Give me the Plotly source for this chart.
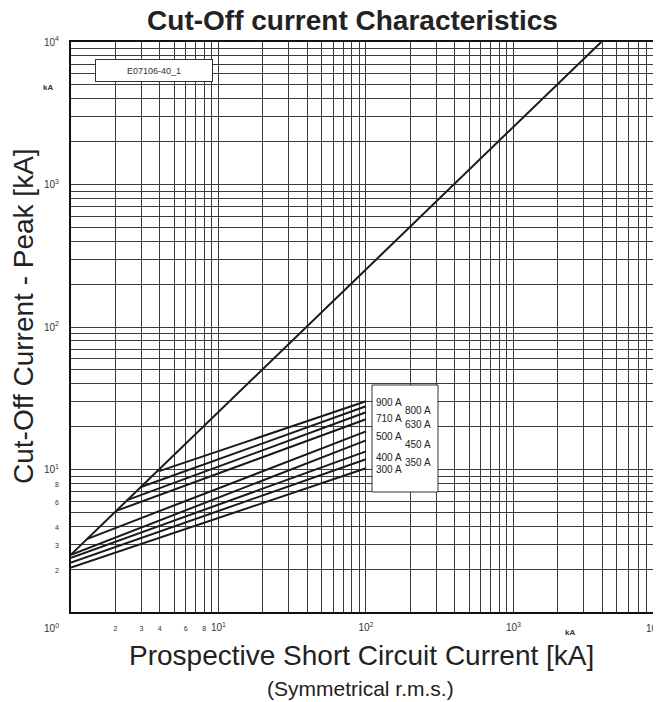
import numpy as np
import plotly.graph_objects as go

# ---------------- data ----------------
# Maximum peak (unlimited) line: prospective current [kA] vs peak [kA]
peak_x = [1.0, 3940.0]
peak_y = [2.53, 10000.0]

# Cut-off lines per fuse rating (start on peak line / left edge, end at 100 kA)
ratings = ["900 A", "800 A", "710 A", "630 A", "500 A", "450 A", "400 A", "350 A", "300 A"]
start_x = [3.92, 2.95, 2.40, 2.00, 1.28, 1.00, 1.00, 1.00, 1.00]
start_y = [9.7, 7.5, 6.1, 5.1, 3.25, 2.52, 2.40, 2.22, 2.05]
end_x = [100, 100, 100, 100, 100, 100, 100, 100, 100]
end_y = [30.1, 27.8, 25.2, 22.5, 18.5, 16.0, 13.4, 11.8, 10.2]

# tick positions (log grid) and labels
x_tickvals = [m * 10 ** e for e in range(0, 4) for m in range(1, 10)]
y_tickvals = [m * 10 ** e for e in range(0, 4) for m in range(1, 10)] + [10000]
small_x = {2: "2", 3: "3", 4: "4", 6: "6", 8: "8"}
small_y = {2: "2", 3: "3", 4: "4", 6: "6", 8: "8"}

title_text = "<b>Cut-Off current Characteristics</b>"
x_title = ["Prospective Short Circuit Current [kA]", "(Symmetrical r.m.s.)"]
y_title = "Cut-Off Current - Peak [kA]"

# ---------------- layout geometry ----------------
# the page body adds an 8 px offset, so the figure is 8 px smaller and
# every reference pixel position is shifted by OFF
OFF = 8
W, H = 661 - OFF, 702 - OFF
L, R, T, B = 71 - OFF, 6, 42 - OFF, 90
PX0, PX1, PY0, PY1 = L, W - R, T, H - B


def px(x):
    return (x - OFF - PX0) / (PX1 - PX0)


def py(y):
    return (PY1 - (y - OFF)) / (PY1 - PY0)


def sm(s):
    return '<span style="font-size:7px">' + s + "</span>"


def tick_text(v, small):
    e = int(np.floor(np.log10(v) + 1e-9))
    m = int(round(v / 10 ** e))
    if m == 1:
        return " " if e == 0 else "10<sup>%d</sup>" % e
    if e == 0 and m in small:
        return sm(small[m])
    return " "


fig = go.Figure()
LINE = dict(color="#1a1a1a", width=2)

fig.add_trace(go.Scatter(x=peak_x, y=peak_y, mode="lines", line=LINE,
                         showlegend=False, hoverinfo="skip"))
for name, x0, y0, x1, y1 in zip(ratings, start_x, start_y, end_x, end_y):
    fig.add_trace(go.Scatter(x=[x0, x1], y=[y0, y1], mode="lines", line=LINE,
                             name=name, showlegend=False))

FONT = "Liberation Sans, Arial, sans-serif"
fig.update_layout(
    width=W, height=H,
    margin=dict(l=L, r=R, t=T, b=B, pad=0, autoexpand=False),
    paper_bgcolor="white", plot_bgcolor="white",
    font=dict(family=FONT, color="#222"),
    title=dict(text=title_text, x=(352.5 - OFF) / W, xref="container",
               xanchor="center", y=1 - (20 - OFF) / H, yref="container", yanchor="middle",
               font=dict(size=28, color="#222", family=FONT)),
    xaxis=dict(type="log", range=[0, 3.96], tickvals=x_tickvals,
               ticktext=[tick_text(v, small_x) for v in x_tickvals], ticks="",
               tickangle=0,
               tickfont=dict(size=10, color="#333"), ticklabelstandoff=5,
               showgrid=True, gridcolor="#3c3c3c", gridwidth=1, automargin=False,
               showline=True, linecolor="#111", linewidth=2, mirror=True, zeroline=False),
    yaxis=dict(type="log", range=[0, 4], tickvals=y_tickvals,
               ticktext=[tick_text(v, small_y) for v in y_tickvals], ticks="",
               tickangle=0,
               tickfont=dict(size=10, color="#333"), ticklabelstandoff=8,
               showgrid=True, gridcolor="#3c3c3c", gridwidth=1, automargin=False,
               showline=True, linecolor="#111", linewidth=2, mirror=True, zeroline=False),
)

C = dict(xref="paper", yref="paper", xanchor="center", yanchor="middle", showarrow=False)
ann = []
# axis titles
ann.append(dict(C, x=px(361), y=py(655), text=x_title[0], font=dict(size=28, color="#222")))
ann.append(dict(C, x=px(360), y=py(688), text=x_title[1], font=dict(size=21, color="#222")))
ann.append(dict(C, x=px(23), y=py(316), text=y_title, textangle=-90,
                font=dict(size=28, color="#222")))
# corner / unit labels
ann.append(dict(C, x=px(51), y=py(628), text="10<sup>0</sup>", font=dict(size=10, color="#333")))
ann.append(dict(C, x=px(652), y=py(628), text="10", font=dict(size=10, color="#333")))
ann.append(dict(C, x=px(570), y=py(632), text="<b>kA</b>", font=dict(size=8, color="#333")))
ann.append(dict(C, x=px(48), y=py(87), text="<b>kA</b>", font=dict(size=8, color="#333")))
# ID box
ann.append(dict(C, x=px(154), y=py(70), text="E07106-40_1",
                font=dict(size=9, color="#333"),
                bgcolor="white", bordercolor="#333", borderwidth=1,
                width=114, height=19))
# rating legend box labels
lab_pos = [(389, 402), (418, 410), (389, 418), (418, 424), (389, 437),
           (418, 444), (389, 457), (418, 462), (389, 469)]
for name, (lx, ly) in zip(ratings, lab_pos):
    ann.append(dict(C, x=px(lx), y=py(ly), text=name, font=dict(size=10, color="#222")))
fig.update_layout(annotations=ann)

fig.add_shape(type="rect", xref="paper", yref="paper",
              x0=px(372), x1=px(438), y0=py(492), y1=py(385),
              line=dict(color="#333", width=1), fillcolor="white", layer="above")

fig.write_html("out.html")
